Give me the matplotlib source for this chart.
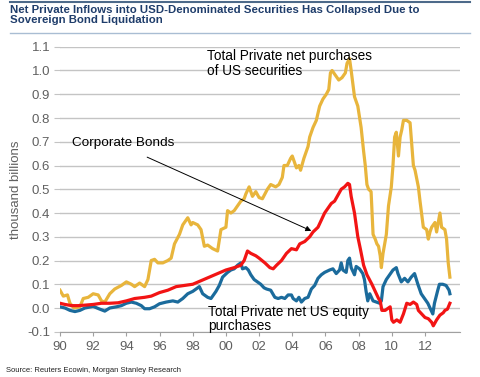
import numpy as np
import matplotlib.pyplot as plt
from matplotlib.lines import Line2D

plt.rcParams['font.family'] = ['Liberation Sans', 'DejaVu Sans']

# total private net purchases of US securities
total_years = [1990.0, 1990.2, 1990.45, 1990.6, 1990.85, 1991.2, 1991.4, 1991.7, 1992.0, 1992.3,
               1992.5, 1992.7, 1993.0, 1993.3, 1993.7, 1994.0, 1994.3, 1994.5, 1994.8, 1995.1,
               1995.3, 1995.5, 1995.7, 1995.9, 1996.2, 1996.5, 1996.7, 1996.9, 1997.2, 1997.4,
               1997.7, 1997.9, 1998.0, 1998.3, 1998.5, 1998.7, 1998.9, 1999.2, 1999.5, 1999.7,
               2000.0, 2000.1, 2000.3, 2000.5, 2000.7, 2000.9, 2001.1, 2001.2, 2001.4, 2001.6,
               2001.8, 2002.0, 2002.2, 2002.5, 2002.7, 2003.0, 2003.2, 2003.4, 2003.5, 2003.7,
               2003.9, 2004.0, 2004.25, 2004.4, 2004.5, 2004.7, 2004.95, 2005.05, 2005.25, 2005.45,
               2005.65, 2005.85, 2006.05, 2006.2, 2006.3, 2006.4, 2006.6, 2006.8, 2007.0, 2007.2,
               2007.3, 2007.45, 2007.55, 2007.75, 2007.95, 2008.15, 2008.3, 2008.4, 2008.5, 2008.6,
               2008.75, 2008.87, 2009.0, 2009.1, 2009.2, 2009.3, 2009.37, 2009.47, 2009.67, 2009.8,
               2009.97, 2010.07, 2010.17, 2010.27, 2010.4, 2010.5, 2010.6, 2010.7, 2010.9, 2011.1,
               2011.2, 2011.3, 2011.4, 2011.6, 2011.7, 2011.9, 2012.1, 2012.2, 2012.3, 2012.4,
               2012.6, 2012.7, 2012.9, 2013.0, 2013.2, 2013.3, 2013.4, 2013.5]
total_vals = [0.075, 0.05, 0.055, 0.02, 0.0, 0.005, 0.04, 0.045, 0.06, 0.055,
              0.03, 0.025, 0.06, 0.08, 0.095, 0.11, 0.1, 0.09, 0.105, 0.09,
              0.12, 0.2, 0.205, 0.19, 0.19, 0.2, 0.21, 0.27, 0.31, 0.35,
              0.38, 0.35, 0.36, 0.35, 0.33, 0.26, 0.265, 0.25, 0.24, 0.33,
              0.34, 0.41, 0.4, 0.41, 0.43, 0.45, 0.46, 0.48, 0.51, 0.47,
              0.49, 0.465, 0.46, 0.5, 0.52, 0.51, 0.52, 0.55, 0.6, 0.6,
              0.63, 0.64, 0.59, 0.6, 0.58, 0.63, 0.68, 0.72, 0.76, 0.79,
              0.85, 0.88, 0.9, 0.92, 0.99, 1.0, 0.98, 0.96, 0.97, 0.99,
              1.03, 1.05, 1.0, 0.89, 0.85, 0.76, 0.66, 0.6, 0.52, 0.5,
              0.49, 0.31, 0.29, 0.27, 0.26, 0.22, 0.17, 0.23, 0.31, 0.43,
              0.51, 0.6, 0.72, 0.74, 0.64, 0.72, 0.75, 0.79, 0.79, 0.78,
              0.69, 0.6, 0.58, 0.51, 0.45, 0.34, 0.33, 0.29, 0.32, 0.34,
              0.36, 0.32, 0.4, 0.34, 0.33, 0.29, 0.19, 0.13]

# corporate bonds
corp_years = [1990.0, 1990.3, 1990.7, 1991.1, 1991.5, 1992.0, 1992.5, 1993.0, 1993.5, 1994.0,
              1994.5, 1995.1, 1995.5, 1996.0, 1996.5, 1997.0, 1997.5, 1998.0, 1998.5, 1999.0,
              1999.5, 2000.0, 2000.5, 2000.9, 2001.1, 2001.3, 2001.5, 2001.8, 2002.0, 2002.35,
              2002.65, 2002.85, 2003.05, 2003.35, 2003.65, 2003.95, 2004.25, 2004.45, 2004.75, 2005.05,
              2005.25, 2005.55, 2005.75, 2005.95, 2006.15, 2006.35, 2006.55, 2006.75, 2006.95, 2007.15,
              2007.35, 2007.45, 2007.55, 2007.75, 2007.95, 2008.1, 2008.3, 2008.5, 2008.8, 2009.0,
              2009.2, 2009.3, 2009.4, 2009.6, 2009.9, 2010.0, 2010.1, 2010.3, 2010.5, 2010.7,
              2010.9, 2011.1, 2011.3, 2011.5, 2011.6, 2011.8, 2012.0, 2012.2, 2012.4, 2012.5,
              2012.7, 2012.9, 2013.1, 2013.2, 2013.35, 2013.5]
corp_vals = [0.02, 0.015, 0.01, 0.01, 0.012, 0.015, 0.02, 0.02, 0.022, 0.03,
             0.04, 0.045, 0.05, 0.065, 0.075, 0.09, 0.095, 0.1, 0.115, 0.13,
             0.145, 0.16, 0.17, 0.18, 0.2, 0.24, 0.23, 0.22, 0.21, 0.19,
             0.17, 0.165, 0.18, 0.2, 0.23, 0.25, 0.245, 0.27, 0.28, 0.3,
             0.32, 0.34, 0.37, 0.4, 0.42, 0.44, 0.45, 0.475, 0.5, 0.51,
             0.525, 0.52, 0.47, 0.4, 0.3, 0.25, 0.18, 0.14, 0.1, 0.07,
             0.04, 0.03, -0.01, -0.01, 0.005, -0.05, -0.06, -0.05, -0.06, -0.025,
             0.02, 0.015, 0.025, 0.015, -0.01, -0.025, -0.04, -0.045, -0.06, -0.075,
             -0.05, -0.03, -0.02, -0.01, -0.005, 0.02]

# total private net US equity purchases
equity_years = [1990.0, 1990.3, 1990.6, 1990.9, 1991.2, 1991.5, 1992.0, 1992.3, 1992.7, 1993.0,
                1993.4, 1993.7, 1994.0, 1994.3, 1994.6, 1994.9, 1995.1, 1995.4, 1995.7, 1996.0,
                1996.4, 1996.8, 1997.1, 1997.4, 1997.7, 1998.0, 1998.2, 1998.4, 1998.6, 1998.9,
                1999.1, 1999.4, 1999.6, 1999.8, 2000.1, 2000.3, 2000.5, 2000.7, 2000.9, 2001.0,
                2001.2, 2001.35, 2001.5, 2001.7, 2001.9, 2002.1, 2002.3, 2002.45, 2002.7, 2002.95,
                2003.15, 2003.35, 2003.55, 2003.75, 2003.95, 2004.05, 2004.25, 2004.4, 2004.55, 2004.75,
                2004.95, 2005.15, 2005.35, 2005.55, 2005.75, 2005.95, 2006.25, 2006.45, 2006.65, 2006.85,
                2006.95, 2007.05, 2007.25, 2007.35, 2007.45, 2007.55, 2007.75, 2007.85, 2008.05, 2008.25,
                2008.35, 2008.45, 2008.55, 2008.67, 2008.87, 2009.07, 2009.27, 2009.37, 2009.47, 2009.67,
                2009.87, 2010.07, 2010.27, 2010.37, 2010.57, 2010.77, 2010.97, 2011.17, 2011.37, 2011.57,
                2011.77, 2011.97, 2012.17, 2012.37, 2012.47, 2012.57, 2012.77, 2012.87, 2013.07, 2013.27,
                2013.45, 2013.5]
equity_vals = [0.005, 0.0, -0.01, -0.015, -0.01, 0.0, 0.007, -0.002, -0.013, 0.0,
               0.005, 0.01, 0.02, 0.025, 0.02, 0.01, -0.003, -0.003, 0.005, 0.018,
               0.025, 0.03, 0.025, 0.04, 0.06, 0.07, 0.08, 0.09, 0.06, 0.045,
               0.04, 0.07, 0.095, 0.13, 0.15, 0.16, 0.165, 0.18, 0.19, 0.165,
               0.17, 0.16, 0.14, 0.12, 0.11, 0.1, 0.085, 0.08, 0.075, 0.045,
               0.04, 0.045, 0.04, 0.055, 0.055, 0.04, 0.03, 0.045, 0.025, 0.04,
               0.045, 0.08, 0.095, 0.125, 0.14, 0.15, 0.16, 0.165, 0.145, 0.16,
               0.19, 0.16, 0.15, 0.2, 0.21, 0.17, 0.14, 0.175, 0.165, 0.145,
               0.12, 0.07, 0.03, 0.06, 0.03, 0.025, 0.02, 0.03, 0.09, 0.12,
               0.14, 0.16, 0.17, 0.145, 0.11, 0.125, 0.11, 0.13, 0.145, 0.1,
               0.06, 0.04, 0.02, -0.01, -0.025, 0.02, 0.075, 0.1, 0.1, 0.095,
               0.075, 0.06]

tick_years = list(range(1990, 2013, 2))
tick_labels = ['90', '92', '94', '96', '98', '00', '02', '04', '06', '08', '10', '12']
y_ticks = [-0.1, 0.0, 0.1, 0.2, 0.3, 0.4, 0.5, 0.6, 0.7, 0.8, 0.9, 1.0, 1.1]

fig = plt.figure(figsize=(4.8, 3.77), dpi=100)
ax = fig.add_axes([0.125, 0.12, 0.833, 0.756])

ax.plot(total_years, total_vals, color='#e8b53c', lw=2.3, zorder=3)
ax.plot(equity_years, equity_vals, color='#1b6b9c', lw=2.3, zorder=4)
ax.plot(corp_years, corp_vals, color='#f21414', lw=2.3, zorder=5)

ax.set_xlim(1990, 2014.1)
ax.set_ylim(-0.1, 1.1)
ax.set_xticks(tick_years)
ax.set_xticklabels(tick_labels)
ax.set_yticks(y_ticks)
ax.set_yticklabels(['%.1f' % v for v in y_ticks])
ax.grid(axis='y', color='#c4c4c4', lw=1)
ax.set_axisbelow(True)
for s in ['top', 'right', 'left']:
    ax.spines[s].set_visible(False)
ax.spines['bottom'].set_color('#a0a0a0')
ax.tick_params(axis='x', colors='#a0a0a0', length=3, labelcolor='#606060', labelsize=9.5, pad=4)
ax.tick_params(axis='y', colors='#c4c4c4', length=4, labelcolor='#606060', labelsize=9.5, pad=3)
ax.set_ylabel('thousand billions', color='#606060', fontsize=9.5, labelpad=4)

ax.text(1998.85, 1.09, 'Total Private net purchases\nof US securities', fontsize=9.8,
        va='top', ha='left', linespacing=1.05)
ax.text(1998.9, 0.013, 'Total Private net US equity\npurchases', fontsize=9.8,
        va='top', ha='left', linespacing=1.05, zorder=6)
ax.text(1990.7, 0.695, 'Corporate Bonds', fontsize=9.7, va='center', ha='left')
ax.annotate('', xy=(2005.3, 0.32), xytext=(1995.1, 0.64),
            arrowprops=dict(arrowstyle='-|>', color='black', lw=0.7, mutation_scale=8))

fig.text(0.021, 0.988, 'Net Private Inflows into USD-Denominated Securities Has Collapsed Due to\nSovereign Bond Liquidation',
         fontsize=8.2, fontweight='bold', color='#1f3d6b', va='top', ha='left', linespacing=1.05)
fig.add_artist(Line2D([0.021, 0.98], [0.996, 0.996], color='#4d6a8a', lw=1.5))
fig.add_artist(Line2D([0.021, 0.98], [0.912, 0.912], color='#a9bdd3', lw=1))
fig.text(0.012, 0.012, 'Source: Reuters Ecowin, Morgan Stanley Research', fontsize=5.5, color='#222222')

plt.savefig('out.png')
